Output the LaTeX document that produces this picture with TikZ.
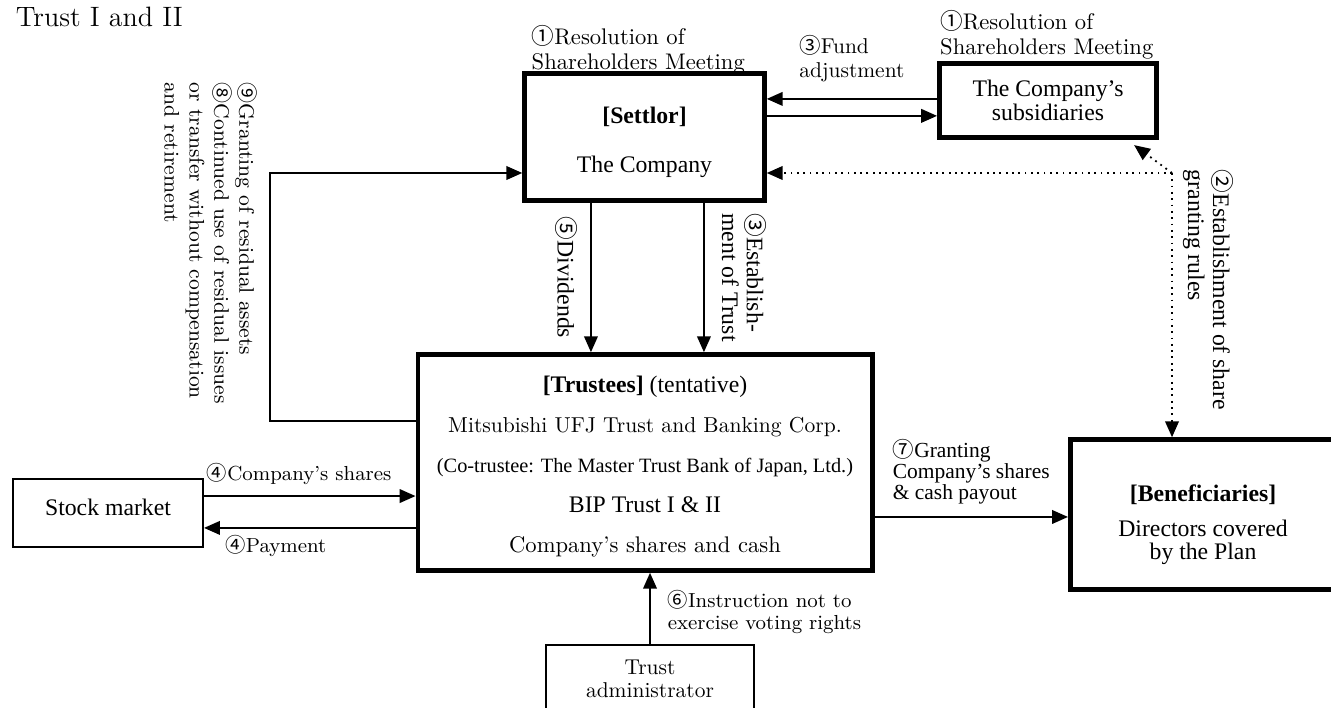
\documentclass[tikz,border=0pt]{standalone}
\usepackage{fontspec}
\newfontfamily\tms{Liberation Serif}
\newfontfamily\cjk{Noto Sans CJK JP}
\newcommand{\cn}[1]{{\cjk #1}}
\usetikzlibrary{arrows.meta, positioning}
\tikzstyle{flow}=[line width=0.8pt, >={Triangle[length=7pt,width=6pt]}]
\tikzstyle{party}=[draw, line width=2pt, align=center, inner sep=0pt,
                   font=\tms\fontsize{10.5}{10.5}\selectfont]
\tikzstyle{plainbox}=[draw, line width=0.9pt, align=center, inner sep=0pt]
\tikzstyle{lbl}=[inner sep=0pt, align=left, font=\fontsize{10}{11}\selectfont]
\tikzstyle{slbl}=[inner sep=0pt, align=left, font=\fontsize{9}{9.6}\selectfont]
\tikzstyle{tlbl}=[inner sep=0pt, align=left, font=\tms\fontsize{10.5}{11}\selectfont]

\begin{document}
\begin{tikzpicture}[flow, x=0.4425pt, y=-0.4425pt]
  \useasboundingbox (0,0) rectangle (1331,708);
  \node[lbl, anchor=base west, font=\fontsize{12.4}{13}\selectfont] (title) at (15,27) {Trust I and II};
  % parties
  \node[party, minimum width=106.2pt, minimum height=56.2pt] (settlor) at (644.5,137)
    {\rule{0pt}{12pt}\textbf{[Settlor]}\\[11pt]The Company};
  \node[party, minimum width=96.2pt, minimum height=32.7pt] (subs) at (1048,100.5)
    {The Company’s\\subsidiaries};
  \node[party, minimum width=201.1pt, minimum height=95.6pt] (trust) at (645,462.5)
    {\rule{0pt}{11pt}\textbf{[Trustees]} (tentative)\\[7.2pt]
     {\rmfamily\fontsize{9.55}{10}\selectfont Mitsubishi UFJ Trust and Banking Corp.}\\[7.2pt]
     {\fontsize{9}{10}\selectfont (Co-trustee: The Master Trust Bank of Japan, Ltd.)}\\[7.2pt]
     BIP Trust I \& II\\[7.2pt]
     {\rmfamily\fontsize{10}{10.5}\selectfont Company’s shares and cash}};
  \node[party, minimum width=117.5pt, minimum height=66.4pt] (benef) at (1203,514.5)
    {\rule{0pt}{16.5pt}\textbf{[Beneficiaries]}\\[5pt]Directors covered\\by the Plan};
  \node[plainbox, font=\tms\fontsize{10.5}{11}\selectfont, minimum width=84.1pt,
        minimum height=30.1pt] (market) at (108,513) {Stock market\rule[-5.3pt]{0pt}{5.3pt}};
  \node[plainbox, font=\fontsize{9.5}{10.2}\selectfont, minimum width=92pt,
        minimum height=29.6pt] (admin) at (650,678.5) {Trust\\administrator};
  % texts beside the parties
  \node[lbl, above right=-1.5pt and 3.8pt of settlor.north west] (resol) {\cn{①}Resolution of\\Shareholders Meeting};
  \node[lbl, above right=0.5pt and 1pt of subs.north west] (subresol) {\cn{①}Resolution of\\Shareholders Meeting};
  \node[lbl, rotate=-90, anchor=north west, font=\fontsize{9.3}{11}\selectfont] (resid) at (258,82)
    {\cn{⑨}Granting of residual assets\\\cn{⑧}Continued use of residual issues\\or transfer without compensation\\and retirement};
  \node[tlbl, rotate=-90, anchor=north west] (rules) at (1234,169)
    {\cn{②}Establishment of share\\granting rules};
  % flows
  \draw[->] ([yshift=0.7pt]subs.west) -- ([yshift=0.7pt]subs.west -| settlor.east)
    node[lbl, midway, above=7pt, font=\fontsize{9.5}{10.8}\selectfont] {\cn{③}Fund\\adjustment};
  \draw[->] ([yshift=-6.8pt]subs.west -| settlor.east) -- ([yshift=-6.8pt]subs.west);
  \path[->] ([xshift=-23.7pt]settlor.south) edge
    node[tlbl, rotate=-90, anchor=north, inner ysep=5.5pt] {\cn{⑤}Dividends}
    ([xshift=-23.7pt]settlor.south |- trust.north);
  \path[->] ([xshift=26.3pt]settlor.south) edge
    node[tlbl, pos=.5, rotate=-90, anchor=south, inner ysep=7.5pt] {\cn{③}Establish-\\ment of Trust}
    ([xshift=26.3pt]settlor.south |- trust.north);
  \draw[->] ([yshift=7.5pt]market.east) -- ([yshift=7.5pt]market.east -| trust.west)
    node[slbl, pos=.45, above=4.5pt] {\cn{④}Company’s shares};
  \draw[->] ([yshift=-6.6pt]market.east -| trust.west) -- ([yshift=-6.6pt]market.east)
    node[slbl, pos=.66, below=3pt] {\cn{④}Payment};
  \draw[->] ([yshift=-24.1pt]trust.east) -- ([yshift=-24.1pt]trust.east -| benef.west)
    node[tlbl, midway, above=5.3pt, font=\tms\fontsize{9.5}{9.2}\selectfont]
    {\cn{⑦}Granting\\Company’s shares\\\& cash payout};
  \draw[->] (admin.north) -- (admin.north |- trust.south)
    node[slbl, pos=.45, right=7.5pt] {\cn{⑥}Instruction not to\\exercise voting rights};
  \coordinate (back) at (270,173);
  \draw[->] ([yshift=18.4pt]trust.west) -| (back) -- (back -| settlor.west);
  % share granting rules
  \coordinate (bend) at (1172,173);
  \draw[->, dotted] (bend) -- (bend -| settlor.east);
  \draw[->, dotted] (bend) -- ([xshift=-11pt, yshift=-2.4pt]subs.south east);
  \draw[->, dotted] (bend) -- (bend |- benef.north);
\end{tikzpicture}
\end{document}
